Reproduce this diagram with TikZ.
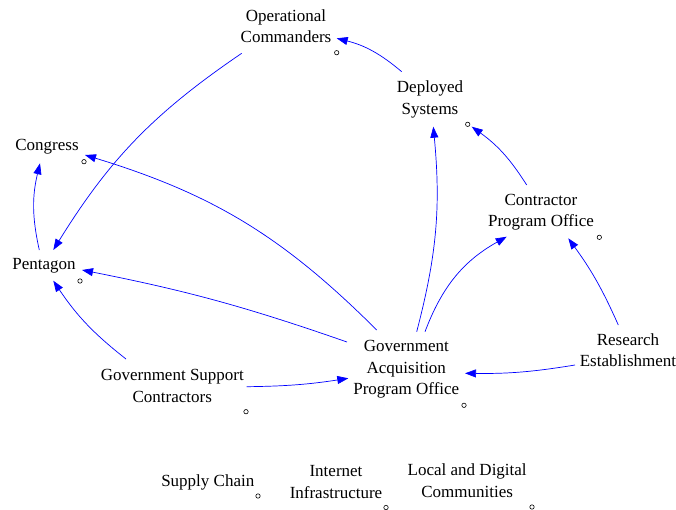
\documentclass[tikz,border=0pt]{standalone}
\usepackage{fontspec}
\setmainfont{Liberation Serif}
\usetikzlibrary{arrows.meta,calc}
\tikzset{
  lbl/.style={inner sep=0pt, align=center, font=\fontsize{17}{21.5}\selectfont},
  arr/.style={draw=blue, line width=0.7pt, -{Triangle[length=11pt,width=8pt]}},
  dot/.style={circle, draw=black, line width=0.6pt, minimum size=4.4pt, inner sep=0pt, fill=white}
}
\begin{document}
\begin{tikzpicture}[x=1pt,y=-1pt]
\useasboundingbox (0,0) rectangle (676,509);
% variables
\node[lbl] (opc) at (286,26) {Operational\\Commanders};
\node[lbl] (dep) at (430,99.5) {Deployed\\Systems};
\node[lbl] (con) at (47,147) {Congress};
\node[lbl] (cpo) at (541,212) {Contractor\\Program Office};
\node[lbl] (pen) at (44,266) {Pentagon};
\node[lbl] (gapo) at (406.3,369.5) {Government\\Acquisition\\Program Office};
\node[lbl] (res) at (628,350) {Research\\Establishment};
\node[lbl] (gsc) at (172.3,386) {Government Support\\Contractors};
\node[lbl] (sup) at (207.8,482) {Supply Chain};
\node[lbl] (int) at (336,482) {Internet\\Infrastructure};
\node[lbl] (loc) at (467.2,480.5) {Local and Digital\\Communities};
% small circles
\node[dot] (opcc) at (336.7,52.7) {};
\node[dot] (depc) at (467.7,124.3) {};
\node[dot] (conc) at (84,161.7) {};
\node[dot] (cpoc) at (599.3,237.3) {};
\node[dot] (penc) at (80,281) {};
\node[dot] (gapoc) at (464,405.3) {};
\node[dot] (gscc) at (246,411.7) {};
\node[dot] (supc) at (258,496) {};
\node[dot] (intc) at (386,507.5) {};
\node[dot] (locc) at (532,507) {};
% connectors
\draw[arr] ($(dep)+(-28.3,-27.8)$) to[bend right=13] ($(opc)+(50.7,12.3)$);
\draw[arr] ($(opc)+(-44.3,27.3)$) to[bend right=12] ($(pen)+(9.3,-16)$);
\draw[arr] ($(pen)+(-4.7,-16)$) to[bend left=13] ($(con)+(-7,16.3)$);
\draw[arr] ($(gapo)+(-29.6,-39.5)$) to[bend right=14] ($(con)+(38,8)$);
\draw[arr] ($(gapo)+(-59.3,-27.5)$) to[bend right=4] ($(pen)+(38,4)$);
\draw[arr] ($(gapo)+(10.4,-37.8)$) to[bend right=10] ($(dep)+(3.3,27.2)$);
\draw[arr] ($(gapo)+(18.7,-37.8)$) to[bend left=20] ($(cpo)+(-34.3,24.7)$);
\draw[arr] ($(cpo)+(-14.3,-27)$) to[bend right=11] ($(dep)+(41.7,27.2)$);
\draw[arr] ($(res)+(-9.7,-25)$) to[bend right=6] ($(cpo)+(27.3,26.3)$);
\draw[arr] ($(res)+(-53,15)$) to[bend left=5] ($(gapo)+(58.7,3.8)$);
\draw[arr] ($(gsc)+(74.4,0.7)$) to[bend right=4] ($(gapo)+(-58,8.8)$);
\draw[arr] ($(gsc)+(-46.3,-27)$) to[bend left=9] ($(pen)+(9.3,14.7)$);
\end{tikzpicture}
\end{document}
